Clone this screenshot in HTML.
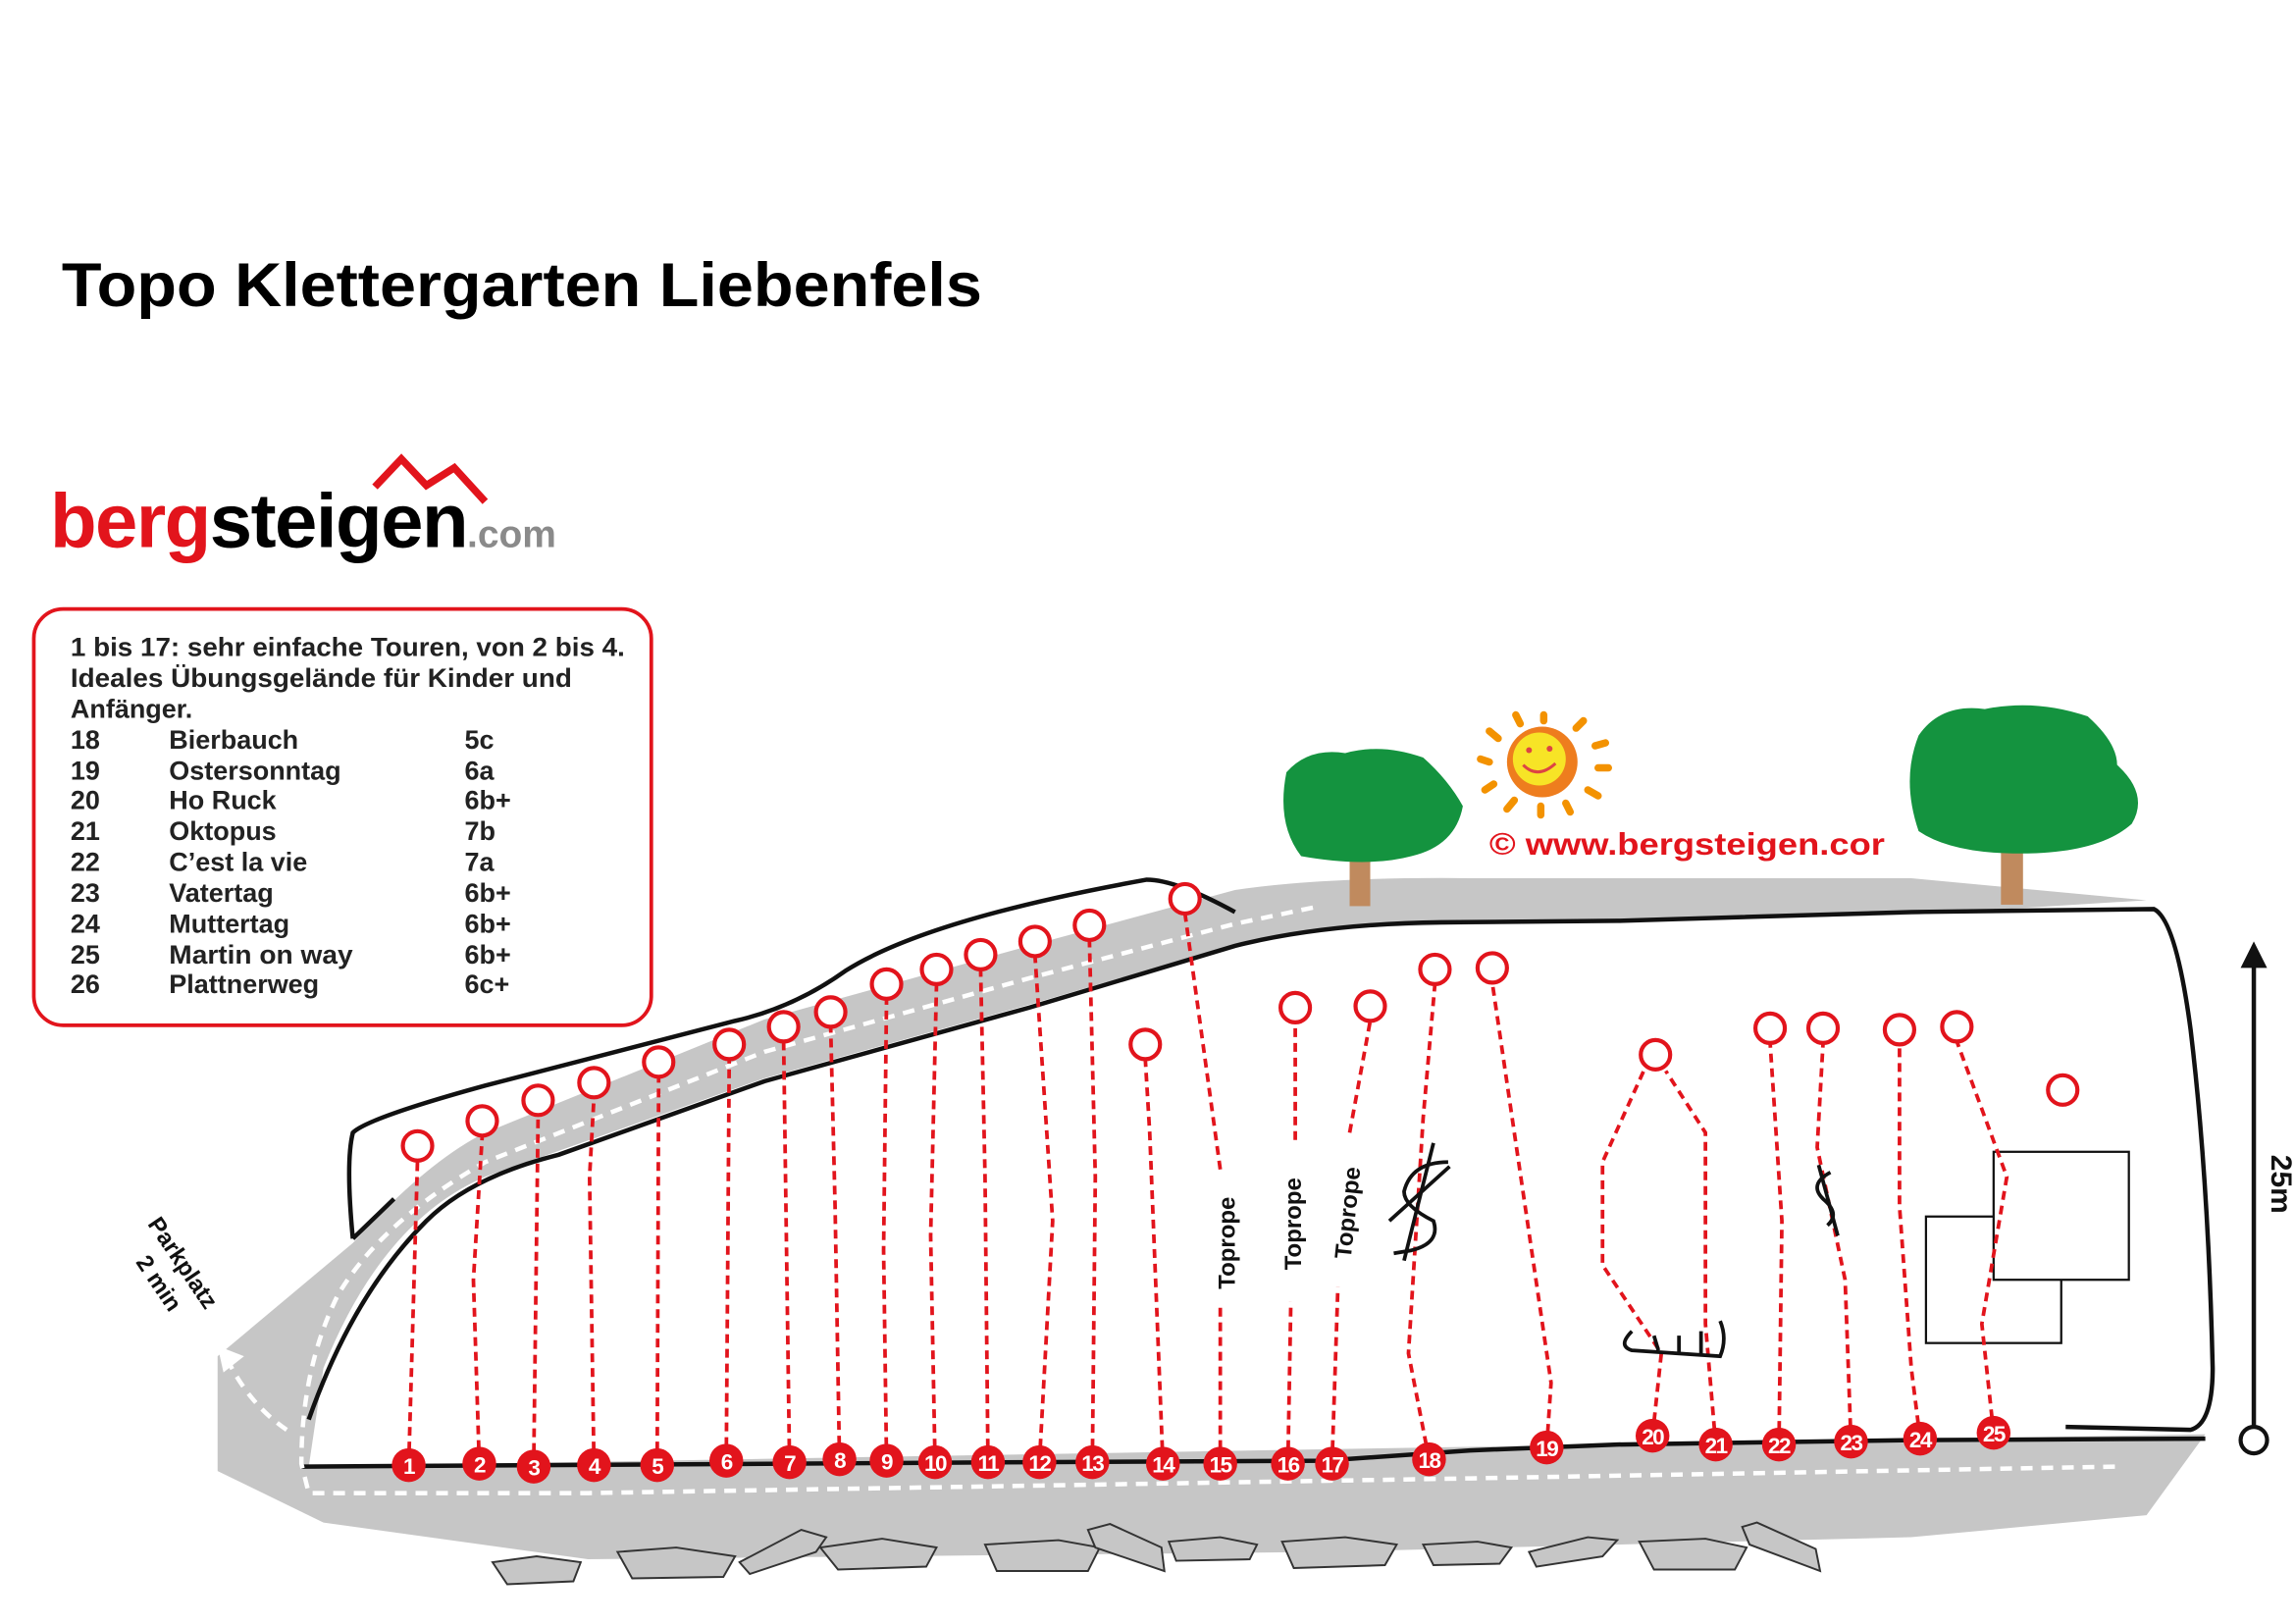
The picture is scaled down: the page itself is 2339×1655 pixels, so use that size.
<!DOCTYPE html>
<html><head><meta charset="utf-8"><style>
html,body{margin:0;padding:0;background:#fff;}
svg{display:block;}
text{font-family:"Liberation Sans",Arial,sans-serif;}
</style></head><body>
<svg width="2339" height="1655" viewBox="0 0 1561 1104" preserveAspectRatio="none" xmlns="http://www.w3.org/2000/svg">
<rect width="1561" height="1104" fill="#fff"/>
<text x="42" y="208" font-size="42" font-weight="bold" fill="#000" textLength="626" lengthAdjust="spacingAndGlyphs">Topo Klettergarten Liebenfels</text>
<!-- logo -->
<polyline points="255,331 273,312 290,330 309,318 330,341" fill="none" stroke="#e2141c" stroke-width="5"/>
<text x="34" y="372" font-size="52" font-weight="bold" letter-spacing="-1"><tspan fill="#e2141c">berg</tspan><tspan fill="#000">steigen</tspan><tspan fill="#8a8a8a" font-size="26" letter-spacing="0">.com</tspan></text>
<!-- legend -->
<rect x="23" y="414" width="420" height="283" rx="20" fill="#fff" stroke="#e2141c" stroke-width="2.5"/>
<g font-size="18" font-weight="bold" fill="#222">
<text x="48" y="446" textLength="377" lengthAdjust="spacingAndGlyphs">1 bis 17: sehr einfache Touren, von 2 bis 4.</text>
<text x="48" y="467" textLength="341" lengthAdjust="spacingAndGlyphs">Ideales Übungsgelände für Kinder und</text>
<text x="48" y="488">Anfänger.</text>
<text x="48" y="509">18</text><text x="115" y="509">Bierbauch</text><text x="316" y="509">5c</text>
<text x="48" y="530">19</text><text x="115" y="530">Ostersonntag</text><text x="316" y="530">6a</text>
<text x="48" y="550">20</text><text x="115" y="550">Ho Ruck</text><text x="316" y="550">6b+</text>
<text x="48" y="571">21</text><text x="115" y="571">Oktopus</text><text x="316" y="571">7b</text>
<text x="48" y="592">22</text><text x="115" y="592">C’est la vie</text><text x="316" y="592">7a</text>
<text x="48" y="613">23</text><text x="115" y="613">Vatertag</text><text x="316" y="613">6b+</text>
<text x="48" y="634">24</text><text x="115" y="634">Muttertag</text><text x="316" y="634">6b+</text>
<text x="48" y="655">25</text><text x="115" y="655" textLength="125" lengthAdjust="spacingAndGlyphs">Martin on way</text><text x="316" y="655">6b+</text>
<text x="48" y="675">26</text><text x="115" y="675">Plattnerweg</text><text x="316" y="675">6c+</text>
</g>
<!-- gray ground -->
<path d="M148,922 L240,845 Q290,790 330,770 L520,693 L700,643 L840,605 Q900,596 1000,597 L1300,597 L1460,612 L1300,622 L1100,626 L940,630 Q880,632 840,642 L700,683 L520,733 L330,800 Q260,830 220,930 L210,997 L1500,975 L1460,1030 L1300,1045 L900,1055 L400,1060 L220,1035 L148,1000 Z" fill="#c6c6c6"/>
<!-- trees -->
<rect x="918" y="578" width="14" height="38" fill="#c08a5e"/>
<path d="M875,525 Q890,508 915,512 Q940,505 968,515 Q985,530 995,548 Q990,575 960,582 Q930,590 885,582 Q868,560 875,525 Z" fill="#14933f"/>
<rect x="1361" y="568" width="15" height="47" fill="#c08a5e"/>
<path d="M1305,500 Q1320,478 1350,482 Q1385,475 1420,487 Q1440,505 1440,520 Q1462,540 1450,560 Q1430,578 1385,580 Q1330,582 1305,565 Q1293,530 1305,500 Z" fill="#14933f"/>
<!-- sun -->
<g>
<g stroke="#f39200" stroke-width="5" stroke-linecap="round">
<line x1="1050" y1="490" x2="1050" y2="486"/><line x1="1072" y1="495" x2="1077" y2="490"/><line x1="1085" y1="507" x2="1092" y2="505"/><line x1="1087" y1="522" x2="1094" y2="522"/><line x1="1080" y1="537" x2="1087" y2="541"/><line x1="1065" y1="546" x2="1068" y2="552"/><line x1="1048" y1="548" x2="1048" y2="554"/><line x1="1030" y1="544" x2="1025" y2="550"/><line x1="1016" y1="533" x2="1010" y2="537"/><line x1="1013" y1="518" x2="1007" y2="516"/><line x1="1019" y1="502" x2="1013" y2="497"/><line x1="1034" y1="492" x2="1031" y2="486"/>
</g>
<circle cx="1049" cy="518" r="24" fill="#ee7d1e"/>
<circle cx="1047" cy="516" r="18" fill="#f7e426"/>
<circle cx="1040" cy="510" r="2" fill="#d44"/><circle cx="1054" cy="509" r="2" fill="#d44"/>
<path d="M1036,520 Q1046,530 1058,519" fill="none" stroke="#d44" stroke-width="2"/>
</g>
<text x="1013" y="581" font-size="21" font-weight="bold" fill="#e2141c" textLength="269" lengthAdjust="spacingAndGlyphs">©  www.bergsteigen.cor</text>
<!-- rocks -->
<g fill="#c6c6c6" stroke="#333" stroke-width="1.3">
<path d="M335,1062 L365,1058 L395,1062 L390,1075 L345,1077 Z"/>
<path d="M420,1055 L460,1052 L500,1058 L492,1072 L430,1073 Z"/>
<path d="M503,1062 L545,1040 L562,1045 L555,1055 L510,1070 Z"/>
<path d="M558,1052 L600,1046 L637,1052 L630,1065 L570,1067 Z"/>
<path d="M670,1050 L720,1047 L748,1052 L740,1068 L678,1068 Z"/>
<path d="M740,1040 L755,1036 L790,1052 L792,1068 L745,1052 Z"/>
<path d="M795,1048 L830,1045 L855,1050 L850,1060 L800,1061 Z"/>
<path d="M872,1048 L915,1045 L950,1050 L942,1064 L880,1066 Z"/>
<path d="M968,1050 L1005,1048 L1028,1052 L1020,1063 L975,1064 Z"/>
<path d="M1040,1055 L1080,1045 L1100,1047 L1090,1058 L1045,1065 Z"/>
<path d="M1115,1048 L1160,1046 L1188,1052 L1180,1067 L1125,1067 Z"/>
<path d="M1185,1038 L1195,1035 L1235,1053 L1238,1068 L1190,1050 Z"/>
</g>
<!-- cliff lines -->
<g fill="none" stroke="#111" stroke-width="3">
<path d="M240,842 Q235,790 240,770 Q250,760 330,738 L500,694 Q540,685 575,660 Q630,625 780,598 Q800,598 840,620"/>
<path d="M240,842 L268,815"/>
<path d="M210,965 Q240,880 290,830 Q320,800 380,785 L520,735 L700,685 L840,643 Q900,628 980,627 L1100,626 L1300,620 L1465,618 Q1480,625 1490,700 Q1502,800 1505,930 Q1505,968 1490,972 L1405,970"/>
<path d="M205,997 L700,994 L900,993 L1000,986 L1100,982 L1300,979 L1500,978"/>
</g>
<!-- white dashed paths -->
<g fill="none" stroke="#fff" stroke-width="3" stroke-dasharray="8,6">
<path d="M893,617 L840,628 L700,665 L520,715 L330,790 Q260,830 230,880 Q205,930 205,995 L210,1015 L400,1015 L1000,1005 L1440,997"/>
<path d="M195,972 Q170,955 155,925"/>
</g>
<polygon points="148,915 166,922 152,933" fill="#fff"/>
<!-- right rectangles -->
<rect x="1310" y="827" width="92" height="86" fill="none" stroke="#111" stroke-width="1.5"/>
<rect x="1356" y="783" width="92" height="87" fill="#fff" stroke="#111" stroke-width="1.5"/>
<!-- routes -->
<g fill="none" stroke="#e2141c" stroke-width="2.5" stroke-dasharray="6,4">
<path d="M278,996 L284,788"/>
<path d="M326,995 L322,870 L328,772"/>
<path d="M363,997 L366,758"/>
<path d="M404,996 L401,800 L404,746"/>
<path d="M447,996 L448,732"/>
<path d="M494,993 L496,720"/>
<path d="M537,994 L533,708"/>
<path d="M571,992 L568,820 L565,698"/>
<path d="M603,993 L601,850 L603,679"/>
<path d="M636,994 L633,840 L637,669"/>
<path d="M672,994 L670,800 L667,659"/>
<path d="M707,994 L716,830 L704,650"/>
<path d="M743,994 L745,800 L741,639"/>
<path d="M791,995 L782,770 L779,720"/>
<path d="M830,995 L830,885"/><path d="M830,795 L806,621"/>
<path d="M876,995 L878,885"/><path d="M881,775 L881,695"/>
<path d="M906,995 L910,875"/><path d="M918,770 L932,694"/>
<path d="M972,992 L958,920 L968,760 L976,669"/>
<path d="M1052,984 L1055,940 L1030,770 L1015,668"/>
<path d="M1124,976 L1130,920 L1090,860 L1090,790 L1118,728"/>
<path d="M1167,982 L1160,900 L1160,770 L1133,728"/>
<path d="M1210,982 L1212,830 L1204,709"/>
<path d="M1259,980 L1255,870 L1236,780 L1240,709"/>
<path d="M1306,978 L1300,930 L1292,820 L1292,710"/>
<path d="M1356,974 L1348,900 L1365,800 L1331,708"/>
</g>
<!-- crux marks -->
<g fill="none" stroke="#111" stroke-width="2.5">
<path d="M985,790 Q960,790 955,810 Q955,820 975,830 Q980,845 960,850 L948,852"/>
<path d="M975,777 L955,857"/><path d="M945,830 L986,793"/>
<path d="M1245,797 Q1230,805 1240,815 Q1252,825 1243,833"/><path d="M1237,792 L1250,840"/>
<path d="M1110,905 Q1100,915 1110,918 L1170,922 Q1175,910 1170,898"/><path d="M1125,908 L1128,918 M1142,908 L1142,919 M1157,905 L1157,920"/>
</g>
<!-- rings -->
<g fill="#fff" stroke="#e2141c" stroke-width="2.8">
<circle cx="284" cy="779" r="10"/><circle cx="328" cy="762" r="10"/><circle cx="366" cy="748" r="10"/><circle cx="404" cy="736" r="10"/><circle cx="448" cy="722" r="10"/><circle cx="496" cy="710" r="10"/><circle cx="533" cy="698" r="10"/><circle cx="565" cy="688" r="10"/><circle cx="603" cy="669" r="10"/><circle cx="637" cy="659" r="10"/><circle cx="667" cy="649" r="10"/><circle cx="704" cy="640" r="10"/><circle cx="741" cy="629" r="10"/><circle cx="779" cy="710" r="10"/><circle cx="806" cy="611" r="10"/><circle cx="881" cy="685" r="10"/><circle cx="932" cy="684" r="10"/><circle cx="976" cy="659" r="10"/><circle cx="1015" cy="658" r="10"/><circle cx="1126" cy="717" r="10"/><circle cx="1204" cy="699" r="10"/><circle cx="1240" cy="699" r="10"/><circle cx="1292" cy="700" r="10"/><circle cx="1331" cy="698" r="10"/><circle cx="1403" cy="741" r="10"/>
</g>
<!-- numbered dots -->
<g fill="#e2141c">
<circle cx="278" cy="996" r="11.5"/><circle cx="326" cy="995" r="11.5"/><circle cx="363" cy="997" r="11.5"/><circle cx="404" cy="996" r="11.5"/><circle cx="447" cy="996" r="11.5"/><circle cx="494" cy="993" r="11.5"/><circle cx="537" cy="994" r="11.5"/><circle cx="571" cy="992" r="11.5"/><circle cx="603" cy="993" r="11.5"/><circle cx="636" cy="994" r="11.5"/><circle cx="672" cy="994" r="11.5"/><circle cx="707" cy="994" r="11.5"/><circle cx="743" cy="994" r="11.5"/><circle cx="791" cy="995" r="11.5"/><circle cx="830" cy="995" r="11.5"/><circle cx="876" cy="995" r="11.5"/><circle cx="906" cy="995" r="11.5"/><circle cx="972" cy="992" r="11.5"/><circle cx="1052" cy="984" r="11.5"/><circle cx="1124" cy="976" r="11.5"/><circle cx="1167" cy="982" r="11.5"/><circle cx="1210" cy="982" r="11.5"/><circle cx="1259" cy="980" r="11.5"/><circle cx="1306" cy="978" r="11.5"/><circle cx="1356" cy="974" r="11.5"/>
</g>
<g fill="#fff" font-size="15" font-weight="bold" text-anchor="middle" letter-spacing="-1">
<text x="278" y="1002">1</text><text x="326" y="1001">2</text><text x="363" y="1003">3</text><text x="404" y="1002">4</text><text x="447" y="1002">5</text><text x="494" y="999">6</text><text x="537" y="1000">7</text><text x="571" y="998">8</text><text x="603" y="999">9</text><text x="636" y="1000">10</text><text x="672" y="1000">11</text><text x="707" y="1000">12</text><text x="743" y="1000">13</text><text x="791" y="1001">14</text><text x="830" y="1001">15</text><text x="876" y="1001">16</text><text x="906" y="1001">17</text><text x="972" y="998">18</text><text x="1052" y="990">19</text><text x="1124" y="982">20</text><text x="1167" y="988">21</text><text x="1210" y="988">22</text><text x="1259" y="986">23</text><text x="1306" y="984">24</text><text x="1356" y="980">25</text>
</g>
<!-- toprope labels -->
<g font-size="16" font-weight="bold" fill="#111" text-anchor="middle">
<text transform="translate(840,845) rotate(-90)">Toprope</text>
<text transform="translate(885,832) rotate(-90)">Toprope</text>
<text transform="translate(922,825) rotate(-84)">Toprope</text>
</g>
<!-- parkplatz -->
<g font-size="16" font-weight="bold" fill="#111">
<text transform="translate(100,832) rotate(56)">Parkplatz</text>
<text transform="translate(92,858) rotate(56)">2 min</text>
</g>
<!-- 25m arrow -->
<line x1="1533" y1="970" x2="1533" y2="655" stroke="#111" stroke-width="3"/>
<polygon points="1533,640 1524,658 1542,658" fill="#111"/>
<circle cx="1533" cy="979" r="9" fill="#fff" stroke="#111" stroke-width="2.8"/>
<text transform="translate(1545,805) rotate(90)" font-size="20" font-weight="bold" fill="#111" text-anchor="middle">25m</text>
</svg>
</body></html>
